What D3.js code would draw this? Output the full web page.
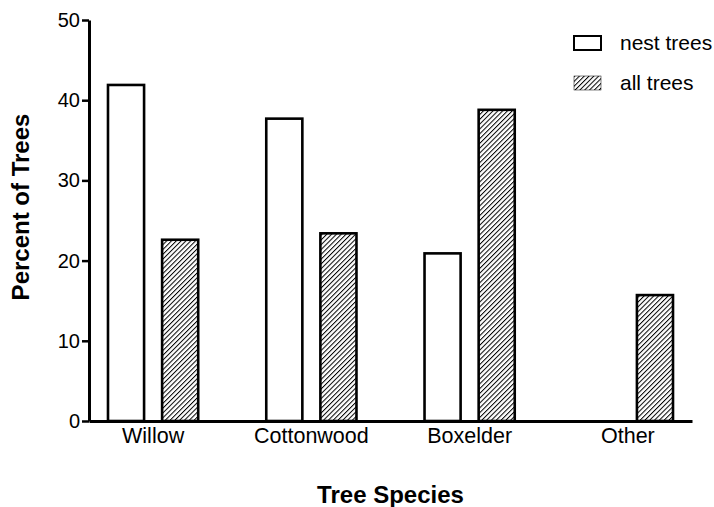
<!DOCTYPE html>
<meta charset="utf-8">
<style>
  body { margin: 0; background: #fff; }
  text { font-family: 'Liberation Sans', Arial, sans-serif; fill: #000; }
</style>
<svg width="714" height="507"></svg>
<script src="https://cdn.jsdelivr.net/npm/d3@7"></script>
<script>
var species = ['Willow', 'Cottonwood', 'Boxelder', 'Other']
var seriesNames = ['nest trees', 'all trees']
var nestTrees = [41.9, 37.7, 20.9, 0]
var allTrees = [22.6, 23.4, 38.8, 15.7]
var yTicks = [0, 10, 20, 30, 40, 50]

var svg = d3.select('svg')
var margin = { top: 20, right: 22, bottom: 86, left: 89 }
var width = 714 - margin.left - margin.right
var height = 507 - margin.top - margin.bottom
var g = svg.append('g').attr('transform', 'translate(' + margin.left + ',' + margin.top + ')')

// hatch pattern for "all trees"
var defs = svg.append('defs')
var pat = defs.append('pattern')
    .attr('id', 'hatch')
    .attr('patternUnits', 'userSpaceOnUse')
    .attr('width', 3.4)
    .attr('height', 3.4)
    .attr('patternTransform', 'rotate(45)')
pat.append('rect').attr('width', 3.4).attr('height', 3.4).attr('fill', '#fff')
pat.append('line')
    .attr('x1', 0).attr('y1', 0).attr('x2', 0).attr('y2', 3.4)
    .attr('stroke', '#000').attr('stroke-width', 2)

var x0 = d3.scaleBand()
    .domain(species)
    .range([0, width])
    .paddingInner(0.43)
    .paddingOuter(0.12)

var x1 = d3.scaleBand()
    .domain(seriesNames)
    .range([0, x0.bandwidth()])
    .paddingInner(1 / 3)

var y = d3.scaleLinear()
    .domain([0, 50])
    .range([height, 0])

var fills = { 'nest trees': '#fff', 'all trees': 'url(#hatch)' }

var rows = species.map(function (s, i) {
  return { species: s, values: [
    { key: 'nest trees', value: nestTrees[i] },
    { key: 'all trees', value: allTrees[i] }
  ] }
})

var groups = g.selectAll('.grp')
    .data(rows)
  .enter().append('g')
    .attr('transform', function (d) { return 'translate(' + x0(d.species) + ',0)' })

groups.selectAll('rect')
    .data(function (d) { return d.values.filter(function (v) { return v.value > 0 }) })
  .enter().append('rect')
    .attr('x', function (d) { return x1(d.key) })
    .attr('y', function (d) { return y(d.value) })
    .attr('width', x1.bandwidth())
    .attr('height', function (d) { return height - y(d.value) })
    .attr('fill', function (d) { return fills[d.key] })
    .attr('stroke', '#000')
    .attr('stroke-width', 2.6)

// y axis
var yAxis = g.append('g')
    .call(d3.axisLeft(y).tickValues(yTicks).tickSize(7).tickSizeOuter(0).tickPadding(2))
yAxis.select('.domain').attr('stroke-width', 3)
yAxis.selectAll('.tick line').attr('stroke-width', 2.5)
yAxis.selectAll('.tick text')
    .style('font-size', '20px')
    .attr('font-family', "'Liberation Sans', Arial, sans-serif")

// x axis
var xAxis = g.append('g')
    .attr('transform', 'translate(0,' + height + ')')
    .call(d3.axisBottom(x0).tickSize(0).tickPadding(7))
xAxis.select('.domain').attr('stroke-width', 3)
xAxis.selectAll('.tick text')
    .style('font-size', '21.5px')
    .attr('font-family', "'Liberation Sans', Arial, sans-serif")

// axis titles
g.append('text')
    .attr('transform', 'rotate(-90)')
    .attr('x', -187)
    .attr('y', -60)
    .attr('text-anchor', 'middle')
    .style('font-size', '24px')
    .style('font-weight', 'bold')
    .text('Percent of Trees')

g.append('text')
    .attr('x', width / 2)
    .attr('y', height + 82)
    .attr('text-anchor', 'middle')
    .style('font-size', '24px')
    .style('font-weight', 'bold')
    .text('Tree Species')

// legend
var legend = g.selectAll('.legend')
    .data(seriesNames)
  .enter().append('g')
    .attr('transform', function (d, i) { return 'translate(485,' + (16 + i * 40) + ')' })

legend.append('rect')
    .attr('width', 27)
    .attr('height', 14)
    .attr('fill', function (d) { return fills[d] })
    .attr('stroke', '#000')
    .attr('stroke-width', function (d, i) { return i === 0 ? 2 : 0.5 })

legend.append('text')
    .attr('x', 46)
    .attr('y', 14)
    .style('font-size', '21px')
    .text(function (d) { return d })
</script>
